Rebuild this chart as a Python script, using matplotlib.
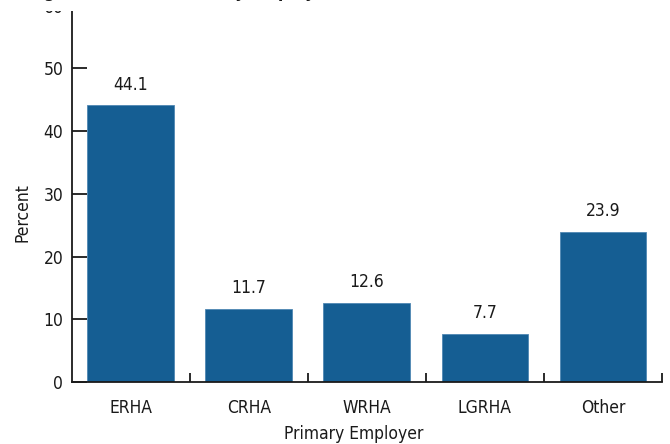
import matplotlib
matplotlib.use("Agg")
import matplotlib.pyplot as plt
from matplotlib.patches import Rectangle
from matplotlib.ticker import FixedLocator

# Share of respondents by primary employer
categories = ["ERHA", "CRHA", "WRHA", "LGRHA", "Other"]
percent = [44.1, 11.7, 12.6, 7.7, 23.9]
value_labels = ["44.1", "11.7", "12.6", "7.7", "23.9"]
y_ticks = [0, 10, 20, 30, 40, 50, 60]
y_tick_labels = ["0", "10", "20", "30", "40", "50", "60"]

title = "Figure 1. Distribution by Employer"
x_title = "Primary Employer"
y_title = "Percent"

plt.rcParams["font.family"] = ["DejaVu Sans"]
plt.rcParams["font.stretch"] = "condensed"

W, H = 670, 444
fig = plt.figure(figsize=(W / 100, H / 100), dpi=100)
left, right = 71.7, 662.0
top, bottom = 5.6, 382.0
ax = fig.add_axes([left / W, (H - bottom) / H, (right - left) / W, (bottom - top) / H])

bar_color = "#155e93"
x = list(range(len(categories)))
ax.bar(x, percent, width=0.735, color=bar_color, edgecolor="#4f87b3",
       linewidth=0.6, zorder=2)

for xi, v, lab in zip(x, percent, value_labels):
    ax.annotate(lab, (xi, v), xytext=(0, 15), textcoords="offset points",
                ha="center", va="center", fontsize=12.5, color="#1a1a1a")

ax.set_xlim(-0.5, len(categories) - 0.5)
ax.set_ylim(0, 60)

for s in ("top", "right"):
    ax.spines[s].set_visible(False)
for s in ("left", "bottom"):
    ax.spines[s].set_linewidth(1.3)
    ax.spines[s].set_color("#1a1a1a")

ax.set_yticks(y_ticks)
ax.set_yticklabels(y_tick_labels, fontsize=12.5, color="#1a1a1a",
                   va="center_baseline")
ax.tick_params(axis="y", direction="in", length=10.5, width=1.3, pad=6,
               color="#1a1a1a")

ax.set_xticks(x)
ax.set_xticklabels(categories, fontsize=12.5, color="#1a1a1a")
ax.tick_params(axis="x", which="major", length=0, pad=12)
ax.xaxis.set_minor_locator(FixedLocator([i + 0.5 for i in x]))
ax.tick_params(axis="x", which="minor", direction="in", length=6.5,
               width=1.3, color="#1a1a1a")

ax.set_xlabel(x_title, fontsize=12.5, color="#1a1a1a")
ax.xaxis.label.set_va("center")
ax.xaxis.set_label_coords((354 - left) / (right - left), -(434 - bottom) / (bottom - top))
ax.set_ylabel(y_title, fontsize=12.5, color="#1a1a1a")
ax.yaxis.label.set_va("center")
ax.yaxis.set_label_coords((22.5 - left) / (right - left), (bottom - 212.5) / (bottom - top))

# Title band across the top of the figure
band_h = 11.5
fig.add_artist(Rectangle((0, 1 - band_h / H), 1, band_h / H, transform=fig.transFigure,
                         facecolor="white", edgecolor="none", zorder=5))
fig.text(28 / W, 1.0 + 3 / H, title, ha="left", va="baseline", fontsize=12.5,
         fontweight="bold", color="#1a1a1a", zorder=6)

fig.savefig("out.png", dpi=100)
